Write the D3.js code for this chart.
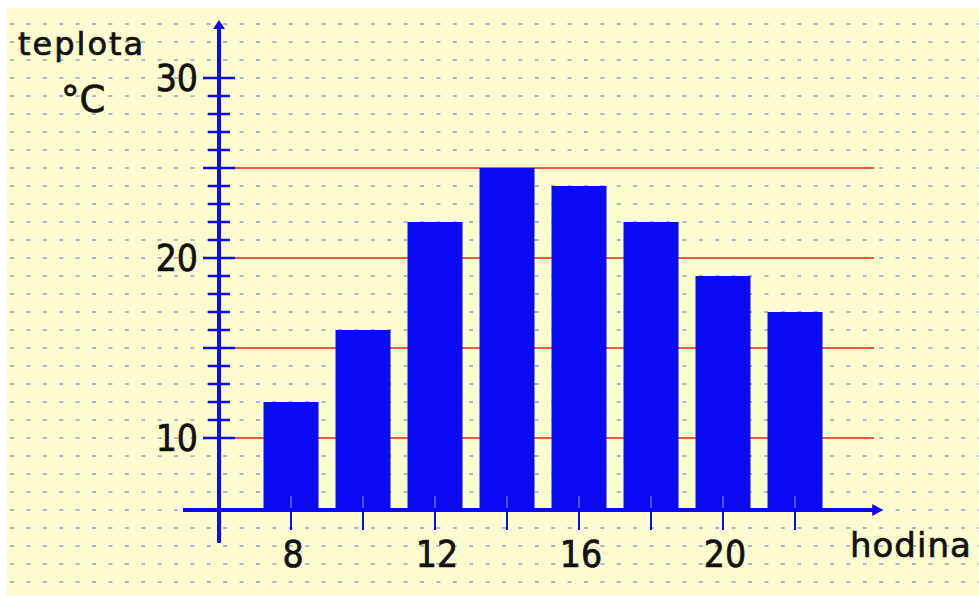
<!DOCTYPE html>
<html>
<head>
<meta charset="utf-8">
<script src="https://cdn.jsdelivr.net/npm/d3@7"></script>
<style>
  html, body { margin: 0; padding: 0; background: #ffffff; }
  svg { display: block; }
  text { font-family: "DejaVu Sans", sans-serif; fill: #111; stroke: #111; stroke-width: 0.7px; }
</style>
</head>
<body>
<svg id="chart" width="979" height="596"></svg>
<script>
// ---- data ----
const hours = [8, 10, 12, 14, 16, 18, 20, 22];
const temps = [12, 16, 22, 25, 24, 22, 19, 17];
const xTickLabels = [8, 12, 16, 20];
const yTickLabels = [10, 20, 30];
const redLevels = [10, 15, 20, 25];
const yTickRange = [10, 30];
const yLabel = ["teplota", "°C"];
const xLabel = "hodina";

// ---- layout ----
const W = 979, H = 596;
const svg = d3.select("#chart");
const blue = "#0a0af4";

// scales: origin (6,6) at pixel (219,510)
const x = d3.scaleLinear().domain([6, 24]).range([219, 867]);
const y = d3.scaleLinear().domain([6, 30]).range([510, 78]);

// background
svg.append("rect").attr("x", 7).attr("y", 8).attr("width", W - 7).attr("height", H - 8)
  .attr("fill", "#fdfdcf");

// dotted paper grid: one dotted row per temperature unit
const rows = d3.range(2, 34);
svg.append("g").selectAll("line").data(rows).join("line")
  .attr("x1", 10).attr("x2", W)
  .attr("y1", d => y(d)).attr("y2", d => y(d))
  .attr("stroke", "#a9bcbf").attr("stroke-width", 2)
  .attr("stroke-dasharray", "4 12.4");

// red horizontal lines
svg.append("g").selectAll("line").data(redLevels).join("line")
  .attr("x1", 206).attr("x2", 874)
  .attr("y1", d => y(d)).attr("y2", d => y(d))
  .attr("stroke", "#ec5a3c").attr("stroke-width", 2.2);

// bars
const barW = 55;
svg.append("g").selectAll("rect").data(hours.map((h, i) => ({ h, t: temps[i] }))).join("rect")
  .attr("x", d => x(d.h) - barW / 2)
  .attr("width", barW)
  .attr("y", d => y(d.t))
  .attr("height", d => y(6) - y(d.t))
  .attr("fill", blue);

// x ticks (part inside bars lighter)
const xt = svg.append("g");
xt.selectAll("line.in").data(hours).join("line").attr("class", "in")
  .attr("x1", d => x(d)).attr("x2", d => x(d))
  .attr("y1", 496).attr("y2", 510)
  .attr("stroke", "#6a6af5").attr("stroke-width", 1.5);
xt.selectAll("line.out").data(hours).join("line").attr("class", "out")
  .attr("x1", d => x(d)).attr("x2", d => x(d))
  .attr("y1", 510).attr("y2", 530)
  .attr("stroke", blue).attr("stroke-width", 2);

// axes lines
svg.append("line").attr("x1", 183).attr("x2", 876).attr("y1", y(6)).attr("y2", y(6))
  .attr("stroke", blue).attr("stroke-width", 4);
svg.append("path")
  .attr("d", `M${x(24.45)},${y(6)} l-11,-6 l0,12 z`)
  .attr("fill", blue);
svg.append("line").attr("x1", x(6)).attr("x2", x(6)).attr("y1", 28).attr("y2", 543)
  .attr("stroke", blue).attr("stroke-width", 4);
svg.append("path")
  .attr("d", `M${x(6)},20 l-6,9 l12,0 z`)
  .attr("fill", blue);

// y ticks
const yTicks = d3.range(yTickRange[0], yTickRange[1] + 1);
svg.append("g").selectAll("line").data(yTicks).join("line")
  .attr("x1", d => d % 5 === 0 ? 203 : 208)
  .attr("x2", d => d % 5 === 0 ? 235 : 230)
  .attr("y1", d => y(d)).attr("y2", d => y(d))
  .attr("stroke", blue).attr("stroke-width", 2.5);

// tick labels
svg.append("g").selectAll("text").data(yTickLabels).join("text")
  .attr("x", 198).attr("y", d => y(d) + 13)
  .attr("text-anchor", "end")
  .style("font-size", "37px")
  .style("font-family", "'DejaVu Sans Condensed', 'DejaVu Sans', sans-serif")
  .text(d => d);
svg.append("g").selectAll("text").data(xTickLabels).join("text")
  .attr("x", d => x(d) + 2).attr("y", 567)
  .attr("text-anchor", "middle")
  .style("font-size", "37px")
  .style("font-family", "'DejaVu Sans Condensed', 'DejaVu Sans', sans-serif")
  .text(d => d);

// axis titles
svg.append("text").attr("x", 18).attr("y", 55)
  .style("font-size", "32px").style("letter-spacing", "2px")
  .text(yLabel[0]);
svg.append("text").attr("x", 61).attr("y", 112)
  .style("font-size", "37px")
  .text(yLabel[1]);
svg.append("text").attr("x", 850).attr("y", 557)
  .style("font-size", "34px").style("letter-spacing", "1px")
  .text(xLabel);
</script>
</body>
</html>
